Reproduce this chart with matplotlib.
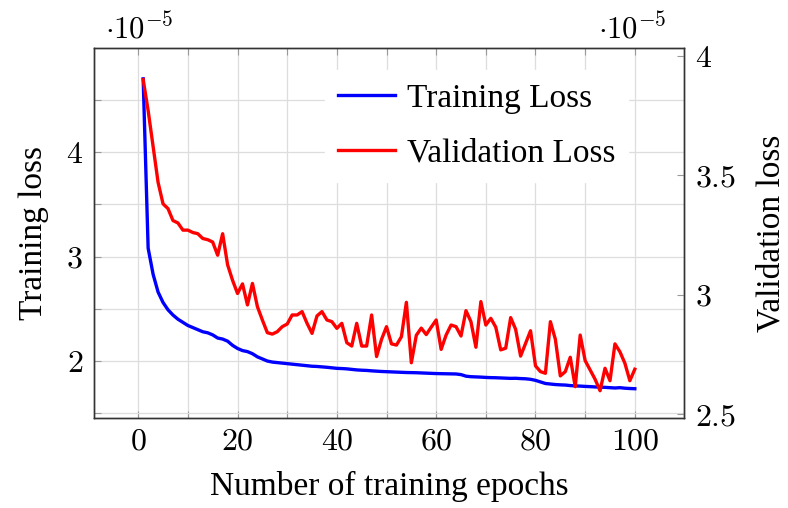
import numpy as np
import matplotlib
matplotlib.use("Agg")
import matplotlib.pyplot as plt
from matplotlib.ticker import MultipleLocator, FuncFormatter

plt.rcParams['font.family'] = ['Liberation Serif', 'DejaVu Serif']
plt.rcParams['mathtext.fontset'] = 'cm'

# epochs and losses (in units of 1e-5)
epochs = list(range(1, 101))
train_loss = [
    4.70, 3.08, 2.83, 2.66, 2.56, 2.49, 2.44, 2.40, 2.37, 2.34,
    2.32, 2.30, 2.28, 2.27, 2.25, 2.22, 2.21, 2.19, 2.15, 2.12,
    2.10, 2.09, 2.07, 2.04, 2.02, 2.00, 1.99, 1.985, 1.98, 1.975,
    1.97, 1.965, 1.96, 1.955, 1.95, 1.948, 1.944, 1.94, 1.935, 1.93,
    1.928, 1.925, 1.92, 1.915, 1.912, 1.91, 1.906, 1.903, 1.90, 1.898,
    1.896, 1.894, 1.892, 1.89, 1.889, 1.888, 1.886, 1.884, 1.882, 1.88,
    1.879, 1.878, 1.877, 1.876, 1.87, 1.855, 1.85, 1.848, 1.846, 1.843,
    1.841, 1.84, 1.838, 1.836, 1.834, 1.835, 1.832, 1.83, 1.825, 1.815,
    1.80, 1.785, 1.78, 1.775, 1.772, 1.77, 1.765, 1.762, 1.76, 1.757,
    1.755, 1.752, 1.75, 1.748, 1.745, 1.742, 1.745, 1.74, 1.737, 1.735,
]
val_loss = [
    3.90, 3.77, 3.62, 3.47, 3.38, 3.36, 3.31, 3.30, 3.27, 3.27,
    3.26, 3.255, 3.235, 3.23, 3.22, 3.165, 3.255, 3.125, 3.06, 3.005,
    3.045, 2.957, 3.047, 2.95, 2.894, 2.841, 2.835, 2.845, 2.866, 2.877,
    2.915, 2.915, 2.929, 2.88, 2.838, 2.911, 2.929, 2.894, 2.887, 2.859,
    2.88, 2.799, 2.785, 2.88, 2.785, 2.785, 2.915, 2.741, 2.813, 2.866,
    2.794, 2.789, 2.824, 2.968, 2.715, 2.83, 2.86, 2.833, 2.864, 2.894,
    2.771, 2.831, 2.873, 2.866, 2.827, 2.933, 2.887, 2.78, 2.971, 2.873,
    2.901, 2.864, 2.769, 2.776, 2.904, 2.855, 2.743, 2.796, 2.849, 2.702,
    2.678, 2.671, 2.887, 2.813, 2.66, 2.678, 2.738, 2.615, 2.831, 2.724,
    2.685, 2.646, 2.598, 2.692, 2.64, 2.794, 2.761, 2.713, 2.64, 2.688,
]

fig = plt.figure(figsize=(7.88, 5.08), dpi=100)
ax1 = fig.add_axes([0.1193, 0.1772, 0.7487, 0.7283])
ax2 = ax1.twinx()

num_fmt = FuncFormatter(lambda v, p: r'$%g$' % v)

ax1.plot(epochs, train_loss, color='#0000ff', lw=2.4, label='Training Loss')
ax2.plot(epochs, val_loss, color='#ff0000', lw=2.4, label='Validation Loss')

ax1.set_xlim(-8.9, 109.9)
ax1.set_ylim(1.455, 4.995)
ax2.set_ylim(2.484, 4.032)

ax1.xaxis.set_major_locator(MultipleLocator(20))
ax1.xaxis.set_minor_locator(MultipleLocator(10))
ax1.yaxis.set_major_locator(MultipleLocator(1))
ax1.yaxis.set_minor_locator(MultipleLocator(0.5))
ax2.yaxis.set_major_locator(MultipleLocator(0.5))
ax1.xaxis.set_major_formatter(num_fmt)
ax1.yaxis.set_major_formatter(num_fmt)
ax2.yaxis.set_major_formatter(num_fmt)

ax1.grid(True, which='both', color='#dddddd', lw=0.9)
ax1.set_axisbelow(True)

ax1.tick_params(axis='x', which='both', direction='in', top=True, length=5,
                width=0.8, color='#999999', labelsize=23, pad=7)
ax1.tick_params(axis='y', which='both', direction='in', length=5, width=0.8,
                color='#999999', labelsize=23, pad=8)
ax2.tick_params(axis='y', direction='in', length=5, width=0.8,
                color='#999999', labelsize=23, pad=8)
for ax in (ax1, ax2):
    for s in ax.spines.values():
        s.set_color('#333333')
        s.set_linewidth(1.0)

ax1.set_xlabel('Number of training epochs', fontsize=24, labelpad=10)
ax1.set_ylabel('Training loss', fontsize=24, labelpad=12)
ax2.set_ylabel('Validation loss', fontsize=24, labelpad=14)

fig.text(0.133, 0.925, r'$\cdot 10^{-5}$', fontsize=22)
fig.text(0.759, 0.925, r'$\cdot 10^{-5}$', fontsize=22)

h1, l1 = ax1.get_legend_handles_labels()
h2, l2 = ax2.get_legend_handles_labels()
leg = ax2.legend(h1 + h2, l1 + l2, loc='upper right', bbox_to_anchor=(0.934, 0.985),
                 fontsize=24, frameon=True, fancybox=False, handlelength=1.7,
                 handletextpad=0.35, labelspacing=0.72, borderpad=0.4)
leg.get_frame().set_edgecolor('white')
leg.get_frame().set_alpha(1.0)

fig.savefig('out.png', dpi=100)
